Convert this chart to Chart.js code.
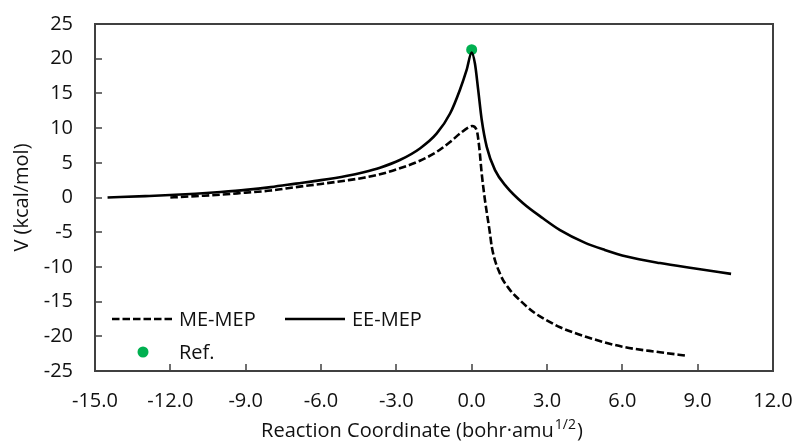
<!DOCTYPE html>
<html>
<head>
<meta charset="utf-8">
<script src="https://cdn.jsdelivr.net/npm/chart.js@4.4.1/dist/chart.umd.min.js"></script>
<style>
  html, body { margin: 0; padding: 0; background: #fff; }
  canvas { display: block; }
</style>
</head>
<body>
<canvas id="mep-chart" width="798" height="443"></canvas>
<script>
// energy along the reaction coordinate, kcal/mol
var meX = [-12.0, -11.0, -10.0, -9.0, -8.0, -7.0, -6.0, -5.0, -4.3, -3.65, -2.86, -2.06, -1.39, -0.86, -0.47, -0.13, 0.02, 0.2, 0.3, 0.4, 0.53, 0.6, 0.73, 0.8, 1.13, 1.5, 1.92, 2.5, 3.25, 3.52, 4.58, 6.0, 7.5, 8.57];
var meV = [0.0, 0.2, 0.4, 0.7, 1.0, 1.5, 1.95, 2.45, 2.85, 3.35, 4.2, 5.3, 6.58, 8.0, 9.2, 10.1, 10.3, 9.7, 7.3, 3.46, -0.4, -2.1, -5.2, -7.1, -11.0, -13.2, -14.8, -16.6, -18.2, -18.7, -20.1, -21.5, -22.3, -22.8];

var eeX = [-14.5, -13.0, -12.0, -11.0, -10.0, -9.0, -8.0, -7.0, -6.0, -5.0, -4.3, -3.65, -2.86, -2.06, -1.39, -0.86, -0.47, -0.2, 0.0, 0.13, 0.26, 0.4, 0.6, 0.93, 1.39, 2.06, 2.85, 3.52, 4.5, 5.3, 6.17, 7.5, 8.83, 10.33];
var eeV = [0.0, 0.2, 0.35, 0.55, 0.8, 1.1, 1.5, 2.0, 2.5, 3.1, 3.65, 4.3, 5.4, 7.07, 9.23, 12.1, 15.5, 18.4, 20.9, 19.3, 15.5, 11.2, 7.3, 3.94, 1.53, -0.87, -3.03, -4.7, -6.5, -7.55, -8.5, -9.45, -10.2, -11.0];

var refX = [0.0];
var refV = [21.3];

var xTicks = [-15, -12, -9, -6, -3, 0, 3, 6, 9, 12];
var yTicks = [-25, -20, -15, -10, -5, 0, 5, 10, 15, 20, 25];

var fontFamily = '"Open Sans", "Noto Sans", sans-serif';
var textColor = '#111';
var axisColor = '#404040';

function toPoints(xs, ys) {
  return xs.map(function (x, i) { return { x: x, y: ys[i] }; });
}

// plot frame plus inward tick marks
var framePlugin = {
  id: 'frame',
  afterDatasetsDraw: function (chart) {
    var ctx = chart.ctx, a = chart.chartArea;
    var xs = chart.scales.x, ys = chart.scales.y;
    ctx.save();
    ctx.strokeStyle = axisColor;
    ctx.lineWidth = 1.5;
    ctx.beginPath();
    xs.ticks.forEach(function (t) {
      var px = Math.round(xs.getPixelForValue(t.value));
      ctx.moveTo(px, a.bottom);
      ctx.lineTo(px, a.bottom - 7);
    });
    ys.ticks.forEach(function (t) {
      var py = Math.round(ys.getPixelForValue(t.value));
      ctx.moveTo(a.left, py);
      ctx.lineTo(a.left + 7, py);
    });
    ctx.stroke();
    ctx.lineWidth = 2;
    ctx.strokeRect(a.left, a.top, a.right - a.left, a.bottom - a.top);
    ctx.restore();
  }
};

// legend inside the plot and the x title with its superscript
var legendAndTitle = {
  id: 'legendAndTitle',
  afterDraw: function (chart) {
    var ctx = chart.ctx;
    var sets = chart.data.datasets;
    ctx.save();
    ctx.font = '20px ' + fontFamily;
    ctx.fillStyle = textColor;
    ctx.textBaseline = 'middle';

    function lineSample(ds, x0, x1, y) {
      ctx.save();
      ctx.strokeStyle = ds.borderColor;
      ctx.lineWidth = ds.borderWidth;
      ctx.setLineDash(ds.borderDash || []);
      ctx.beginPath();
      ctx.moveTo(x0, y);
      ctx.lineTo(x1, y);
      ctx.stroke();
      ctx.restore();
    }

    lineSample(sets[0], 112, 172, 319);
    ctx.fillText(sets[0].label, 179, 320);
    lineSample(sets[1], 285, 345, 319);
    ctx.fillText(sets[1].label, 352, 320);

    ctx.beginPath();
    ctx.fillStyle = sets[2].backgroundColor;
    ctx.arc(143, 352, sets[2].pointRadius, 0, Math.PI * 2);
    ctx.fill();
    ctx.fillStyle = textColor;
    ctx.fillText(sets[2].label, 179, 353);

    // x axis title: Reaction Coordinate (bohr·amu^1/2)
    var main = 'Reaction Coordinate (bohr\u00b7amu';
    var sup = '1/2';
    var tail = ')';
    ctx.textBaseline = 'alphabetic';
    ctx.font = '20px ' + fontFamily;
    var wMain = ctx.measureText(main).width;
    var wTail = ctx.measureText(tail).width;
    ctx.font = '14px ' + fontFamily;
    var wSup = ctx.measureText(sup).width;
    var total = wMain + wSup + wTail;
    var x = 421 - total / 2;
    var base = 437;
    ctx.font = '20px ' + fontFamily;
    ctx.fillText(main, x, base);
    ctx.font = '14px ' + fontFamily;
    ctx.fillText(sup, x + wMain + 1, base - 8);
    ctx.font = '20px ' + fontFamily;
    ctx.fillText(tail, x + wMain + wSup + 2, base);
    ctx.restore();
  }
};

new Chart(document.getElementById('mep-chart'), {
  type: 'scatter',
  data: {
    datasets: [
      {
        label: 'ME-MEP',
        data: toPoints(meX, meV),
        showLine: true,
        borderColor: '#000',
        borderWidth: 2.6,
        borderDash: [7.5, 3],
        pointRadius: 0,
        cubicInterpolationMode: 'monotone'
      },
      {
        label: 'EE-MEP',
        data: toPoints(eeX, eeV),
        showLine: true,
        borderColor: '#000',
        borderWidth: 2.6,
        pointRadius: 0,
        cubicInterpolationMode: 'monotone'
      },
      {
        label: 'Ref.',
        data: toPoints(refX, refV),
        showLine: false,
        backgroundColor: '#00b050',
        borderColor: '#00b050',
        borderWidth: 0,
        pointRadius: 5.5
      }
    ]
  },
  options: {
    responsive: false,
    animation: false,
    layout: { padding: { left: 0, top: 24, right: 25, bottom: 0 } },
    plugins: {
      legend: { display: false },
      tooltip: { enabled: false }
    },
    scales: {
      x: {
        type: 'linear',
        min: -15,
        max: 12,
        afterBuildTicks: function (scale) {
          scale.ticks = xTicks.map(function (v) { return { value: v }; });
        },
        afterFit: function (scale) {
          scale.height = 72;
          scale.paddingLeft = 0;
          scale.paddingRight = 0;
        },
        grid: { display: false, drawTicks: false },
        border: { display: false },
        ticks: {
          padding: 18,
          color: textColor,
          font: { family: fontFamily, size: 20 },
          maxRotation: 0,
          callback: function (v) { return Number(v).toFixed(1); }
        }
      },
      y: {
        type: 'linear',
        min: -25,
        max: 25,
        afterBuildTicks: function (scale) {
          scale.ticks = yTicks.map(function (v) { return { value: v }; });
        },
        afterFit: function (scale) {
          scale.width = 95;
          scale.paddingTop = 0;
          scale.paddingBottom = 0;
        },
        grid: { display: false, drawTicks: false },
        border: { display: false },
        title: {
          display: true,
          text: 'V (kcal/mol)',
          color: textColor,
          font: { family: fontFamily, size: 20 },
          padding: { top: 10, bottom: 0 }
        },
        ticks: {
          padding: 22,
          color: textColor,
          font: { family: fontFamily, size: 20 }
        }
      }
    }
  },
  plugins: [framePlugin, legendAndTitle]
});
</script>
</body>
</html>
